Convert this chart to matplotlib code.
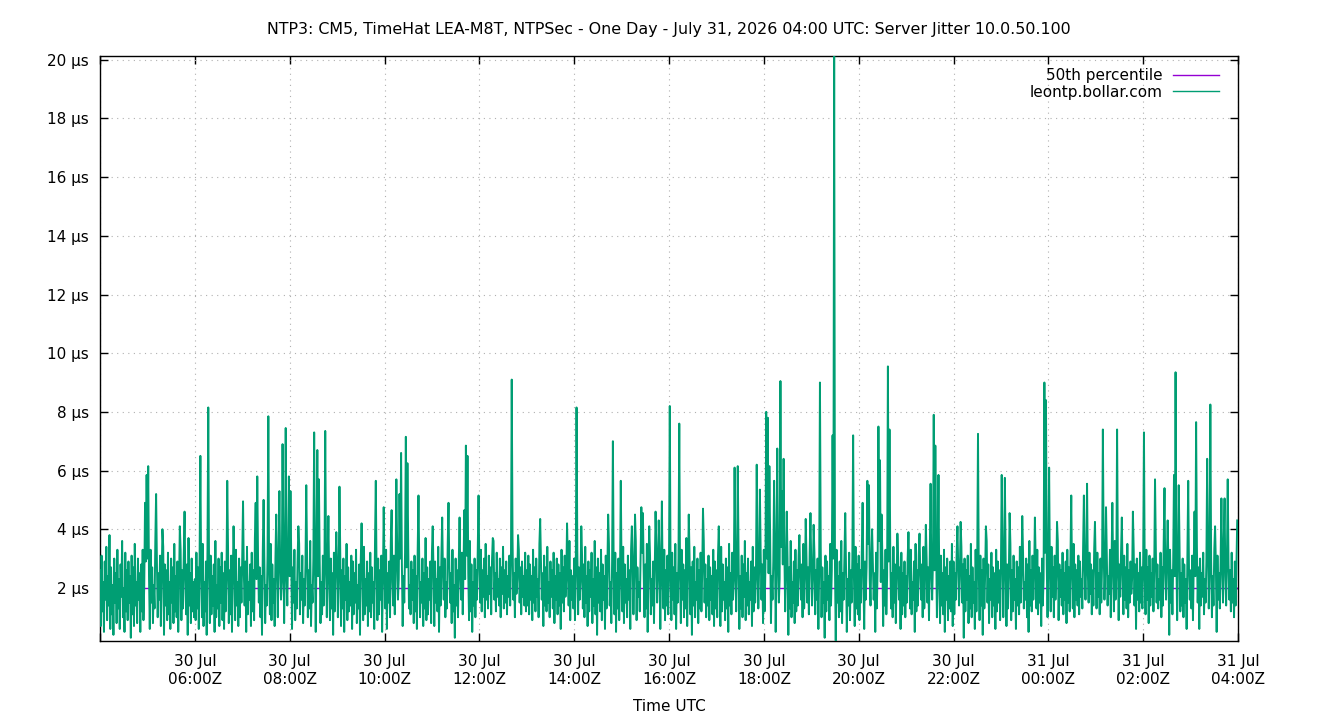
import numpy as np
import pandas as pd
import matplotlib
matplotlib.use("Agg")
import matplotlib.pyplot as plt
import matplotlib.dates as mdates
from matplotlib.ticker import FuncFormatter, MultipleLocator

# jitter, one sample per minute from 30 Jul 04:00 UTC, in tenths of a µs (one row per hour)
jitter_tenths = [
    26, 7, 31, 12, 22, 5, 29, 16, 34, 9, 24, 14, 38, 6, 27, 11, 21, 4, 30, 15, 25, 8, 33, 13, 23, 6, 28, 17, 36, 10, 20, 5, 32, 12, 26, 9, 29, 15, 24, 3, 31, 11, 27, 7, 35, 14, 22, 8, 30, 16, 25, 5, 28, 12, 33, 9, 21, 13, 29, 6,
    30, 11, 24, 6, 33, 15, 27, 8, 21, 13, 36, 5, 29, 10, 25, 16, 31, 7, 23, 12, 34, 4, 28, 14, 26, 9, 32, 11, 22, 6, 30, 15, 27, 8, 35, 12, 24, 10, 29, 5, 21, 16, 33, 9, 26, 13, 31, 7, 23, 11, 28, 4, 37, 14, 25, 8, 30, 12, 22, 10,
    23, 9, 32, 13, 27, 6, 30, 15, 25, 10, 35, 7, 22, 12, 29, 4, 33, 16, 26, 8, 31, 11, 24, 14, 28, 5, 36, 10, 21, 13, 30, 7, 27, 15, 32, 9, 25, 6, 29, 12, 23, 16, 34, 8, 26, 11, 31, 5, 24, 13, 28, 9, 33, 14, 22, 7, 30, 10, 27, 15,
    31, 8, 25, 14, 29, 5, 34, 11, 22, 16, 28, 7, 32, 12, 26, 9, 37, 13, 23, 6, 30, 15, 27, 10, 24, 4, 33, 12, 29, 8, 21, 14, 31, 6, 26, 11, 35, 9, 28, 15, 23, 7, 30, 13, 25, 10, 32, 5, 27, 16, 22, 12, 34, 8, 29, 11, 24, 14, 31, 9,
    24, 12, 30, 6, 27, 15, 33, 9, 22, 13, 29, 4, 35, 11, 25, 16, 31, 8, 23, 14, 28, 6, 32, 10, 26, 13, 36, 7, 21, 15, 30, 9, 27, 5, 34, 12, 24, 16, 29, 8, 22, 11, 31, 14, 26, 6, 33, 10, 28, 15, 23, 9, 30, 13, 25, 4, 32, 12, 27, 8,
    28, 10, 23, 15, 32, 7, 26, 13, 30, 5, 24, 16, 35, 9, 27, 12, 22, 14, 31, 6, 29, 11, 25, 15, 33, 8, 21, 13, 28, 4, 30, 16, 26, 9, 34, 11, 23, 14, 29, 7, 25, 12, 32, 10, 27, 15, 22, 6, 36, 13, 24, 9, 30, 11, 26, 16, 31, 5, 23, 14,
    27, 13, 33, 6, 25, 15, 29, 10, 36, 8, 22, 14, 31, 11, 26, 5, 34, 16, 23, 9, 30, 12, 28, 7, 24, 15, 32, 10, 27, 4, 35, 13, 21, 11, 29, 16, 26, 8, 31, 12, 24, 6, 33, 14, 28, 10, 22, 15, 30, 7, 25, 13, 37, 9, 27, 11, 23, 16, 29, 8,
    32, 11, 26, 7, 29, 15, 23, 12, 34, 5, 27, 14, 31, 9, 24, 16, 30, 10, 22, 13, 35, 6, 28, 15, 25, 8, 33, 12, 21, 3, 30, 14, 26, 10, 29, 6, 24, 16, 32, 11, 27, 13, 23, 7, 31, 15, 25, 9, 36, 12, 28, 5, 22, 14, 30, 10, 26, 16, 33, 8,
    28, 15, 33, 12, 26, 17, 30, 10, 35, 16, 24, 13, 31, 18, 27, 11, 29, 14, 36, 16, 25, 12, 32, 17, 23, 14, 30, 10, 27, 18, 34, 13, 26, 15, 29, 11, 24, 17, 31, 14, 28, 12, 37, 16, 25, 10, 30, 18, 23, 13, 33, 15, 27, 11, 29, 17, 24, 14, 32, 12,
    26, 14, 31, 11, 28, 16, 24, 9, 33, 15, 27, 12, 30, 17, 23, 10, 35, 13, 29, 16, 25, 7, 31, 14, 27, 12, 34, 15, 22, 10, 29, 17, 26, 13, 32, 8, 24, 16, 30, 11, 28, 14, 25, 6, 33, 15, 27, 12, 31, 17, 23, 10, 29, 14, 36, 9, 26, 16, 24, 13,
    30, 9, 25, 14, 33, 11, 27, 16, 22, 5, 31, 13, 28, 10, 34, 15, 24, 7, 29, 12, 26, 17, 32, 8, 23, 14, 36, 11, 27, 4, 30, 15, 25, 12, 33, 9, 28, 16, 24, 6, 31, 13, 26, 10, 35, 14, 22, 8, 29, 16, 27, 11, 32, 5, 25, 13, 30, 9, 23, 15,
    25, 12, 34, 8, 28, 15, 23, 10, 31, 16, 26, 6, 33, 13, 29, 11, 24, 14, 36, 9, 27, 17, 22, 12, 30, 7, 32, 15, 25, 10, 28, 13, 35, 5, 26, 16, 31, 11, 23, 14, 29, 8, 27, 12, 34, 15, 24, 10, 30, 6, 28, 16, 22, 13, 33, 9, 26, 14, 31, 11,
    29, 14, 24, 9, 32, 16, 27, 11, 35, 6, 25, 15, 30, 12, 23, 8, 33, 16, 28, 10, 26, 13, 37, 7, 24, 15, 31, 11, 27, 4, 29, 14, 34, 10, 22, 16, 30, 8, 26, 13, 32, 12, 25, 6, 36, 15, 28, 10, 23, 14, 31, 9, 27, 16, 24, 11, 33, 7, 29, 13,
    26, 10, 31, 15, 24, 7, 34, 12, 28, 16, 22, 9, 30, 13, 27, 5, 35, 14, 25, 11, 32, 16, 23, 8, 29, 12, 26, 15, 33, 6, 24, 13, 31, 10, 28, 17, 36, 9, 25, 14, 30, 11, 22, 16, 29, 7, 34, 12, 27, 15, 23, 4, 31, 13, 26, 10, 32, 16, 28, 8,
    33, 12, 27, 6, 30, 15, 25, 10, 37, 8, 24, 16, 29, 13, 35, 5, 26, 11, 31, 15, 23, 9, 34, 14, 28, 7, 32, 12, 25, 16, 30, 4, 27, 13, 36, 10, 22, 15, 29, 8, 33, 12, 26, 14, 31, 6, 24, 16, 28, 10, 35, 13, 23, 7, 30, 15, 27, 11, 32, 9,
    28, 14, 23, 8, 32, 11, 26, 16, 30, 6, 25, 13, 34, 10, 27, 15, 22, 3, 31, 12, 29, 16, 24, 9, 35, 14, 26, 7, 30, 13, 28, 2, 33, 15, 24, 10, 29, 12, 36, 8, 25, 16, 31, 11, 27, 5, 23, 14, 32, 9, 26, 15, 30, 12, 24, 7, 34, 13, 28, 11,
    31, 9, 26, 15, 33, 12, 24, 6, 29, 16, 27, 11, 35, 8, 23, 14, 30, 10, 28, 16, 25, 5, 32, 13, 27, 9, 36, 15, 22, 12, 30, 7, 26, 14, 33, 11, 24, 16, 29, 4, 31, 13, 25, 10, 34, 15, 28, 8, 23, 12, 30, 16, 27, 6, 32, 11, 25, 14, 29, 10,
    24, 15, 30, 8, 27, 13, 33, 11, 22, 16, 29, 5, 35, 12, 26, 14, 31, 7, 25, 16, 28, 10, 34, 13, 23, 4, 30, 15, 27, 9, 32, 12, 24, 16, 29, 6, 26, 13, 36, 10, 28, 15, 22, 8, 31, 14, 25, 11, 33, 5, 27, 16, 30, 9, 24, 13, 29, 12, 35, 7,
    29, 11, 25, 16, 32, 7, 27, 14, 23, 10, 34, 15, 28, 3, 30, 12, 26, 16, 31, 8, 24, 13, 35, 10, 27, 15, 22, 6, 33, 12, 29, 16, 25, 9, 31, 14, 26, 4, 30, 13, 24, 11, 36, 15, 28, 8, 23, 16, 32, 10, 27, 14, 25, 6, 33, 12, 29, 15, 26, 9,
    27, 14, 33, 10, 25, 16, 30, 7, 28, 13, 24, 15, 35, 9, 26, 12, 31, 16, 23, 6, 29, 14, 27, 11, 34, 15, 25, 8, 32, 13, 22, 16, 30, 10, 28, 5, 36, 14, 26, 12, 31, 16, 24, 9, 29, 13, 33, 11, 27, 15, 25, 7, 30, 14, 23, 12, 32, 16, 28, 10,
    30, 15, 25, 12, 34, 17, 27, 10, 31, 16, 24, 13, 36, 9, 28, 17, 26, 14, 32, 11, 25, 16, 29, 8, 33, 15, 27, 12, 30, 18, 24, 13, 35, 10, 28, 16, 26, 14, 31, 11, 29, 17, 23, 13, 34, 9, 27, 16, 30, 12, 25, 15, 32, 18, 28, 11, 26, 14, 33, 16,
    27, 13, 32, 17, 25, 11, 30, 15, 28, 8, 34, 16, 26, 12, 31, 14, 24, 18, 33, 10, 29, 15, 27, 12, 36, 16, 25, 13, 30, 9, 28, 17, 32, 14, 24, 11, 31, 16, 27, 13, 35, 10, 26, 15, 29, 18, 23, 12, 33, 14, 28, 6, 30, 16, 25, 12, 32, 15, 27, 13,
    29, 15, 24, 11, 33, 16, 27, 8, 31, 14, 25, 17, 30, 12, 26, 5, 34, 15, 28, 13, 23, 16, 32, 10, 27, 14, 36, 9, 25, 16, 30, 12, 28, 4, 33, 15, 26, 11, 29, 17, 24, 13, 31, 9, 27, 16, 35, 12, 25, 14, 30, 10, 28, 15, 23, 6, 32, 14, 26, 16,
    26, 13, 31, 9, 28, 16, 24, 12, 34, 15, 27, 6, 30, 14, 25, 17, 32, 11, 23, 15, 29, 8, 35, 13, 26, 16, 30, 10, 24, 14, 33, 12, 28, 5, 31, 16, 25, 13, 29, 9, 27, 15, 36, 11, 24, 14, 30, 8, 28, 16, 26, 12, 32, 15, 23, 10, 29, 14, 27, 12,
]

# spikes: (minutes after 30 Jul 04:00, jitter µs)
spikes = [
    (57, 4.9), (59, 5.85), (61, 6.15), (71, 5.2), (79, 4.0), (101, 4.1), (107, 4.6), (127, 6.5),
    (137, 8.15), (161, 5.65), (169, 4.1), (181, 4.95), (197, 4.9), (199, 5.8), (207, 5.0), (213, 7.85),
    (223, 4.5), (227, 5.3), (231, 6.9), (235, 7.45), (239, 5.8), (241, 5.3), (251, 4.1), (261, 5.5),
    (271, 7.3), (275, 6.7), (277, 5.7), (285, 7.35), (289, 4.45), (299, 3.9), (303, 5.45), (331, 4.2),
    (349, 5.65), (359, 4.75), (369, 4.65), (375, 5.7), (379, 5.2), (381, 6.6), (387, 7.15), (389, 6.25),
    (403, 5.15), (421, 4.1), (433, 4.4), (441, 4.9), (455, 4.4), (461, 4.65), (463, 6.85), (465, 6.5),
    (479, 5.15), (497, 3.7), (521, 9.1), (529, 3.8), (557, 4.35), (591, 4.2), (603, 8.15), (609, 4.1),
    (643, 4.5), (649, 7.0), (659, 5.65), (673, 4.1), (677, 4.5), (685, 4.75), (687, 4.55), (695, 4.1),
    (703, 4.6), (707, 4.3), (711, 4.95), (721, 8.2), (733, 7.6), (745, 4.5), (763, 4.7), (783, 4.1),
    (803, 6.1), (807, 6.15), (831, 6.2), (835, 5.35), (843, 8.0), (845, 7.8), (847, 6.15), (853, 5.65),
    (857, 6.75), (861, 9.05), (863, 5.3), (865, 6.4), (869, 4.6), (885, 3.8), (893, 4.35), (899, 4.55),
    (903, 4.15), (911, 9.0), (927, 7.2), (929, 20.13), (943, 4.55), (953, 7.2), (965, 4.9), (971, 5.65),
    (973, 5.5), (977, 4.0), (985, 7.5), (987, 6.35), (989, 4.5), (997, 9.55), (999, 7.4), (1009, 3.85),
    (1023, 3.9), (1037, 3.85), (1045, 4.15), (1051, 5.55), (1055, 7.9), (1057, 6.85), (1061, 5.85), (1085, 4.1),
    (1089, 4.25), (1111, 7.25), (1121, 4.1), (1141, 5.85), (1145, 5.75), (1151, 4.55), (1167, 4.45), (1183, 4.4),
    (1195, 9.0), (1197, 8.4), (1201, 6.1), (1211, 4.25), (1229, 5.15), (1245, 5.15), (1249, 5.55), (1259, 4.25),
    (1269, 7.4), (1273, 4.75), (1281, 4.9), (1287, 7.4), (1293, 4.4), (1307, 4.6), (1321, 7.3), (1335, 5.7),
    (1347, 5.4), (1351, 4.3), (1359, 5.85), (1361, 9.35), (1365, 5.5), (1377, 5.65), (1385, 4.6), (1387, 7.65),
    (1401, 6.4), (1405, 8.25), (1411, 4.1), (1419, 5.05), (1423, 5.05), (1427, 5.7), (1439, 4.3),
]

p50_us = 1.98  # 50th percentile line

start = pd.Timestamp("2026-07-30 04:00")
end = pd.Timestamp("2026-07-31 04:00")

regular = pd.Series(np.array(jitter_tenths) / 10.0,
                    index=pd.date_range(start, periods=len(jitter_tenths), freq="1min"))
spk_min, spk_val = zip(*spikes)
spk = pd.Series(spk_val, index=start + pd.to_timedelta(spk_min, unit="min"))
# a spike replaces the regular sample taken at that minute
series = pd.concat([regular.drop(spk.index, errors="ignore"), spk]).sort_index()

plt.rcParams["font.family"] = ["DejaVu Sans"]
plt.rcParams["path.simplify"] = False
fig = plt.figure(figsize=(13.4, 7.2), dpi=100)
ax = fig.add_axes([100 / 1340, 1 - 641 / 720, 1138 / 1340, 585 / 720])

ax.plot([start, end], [p50_us, p50_us], color="#9400d3", lw=1.0, label="50th percentile", zorder=2)
ax.plot(series.index, series.values, color="#009e73", lw=1.4, label="leontp.bollar.com", zorder=3)

ax.set_xlim(start, end)
ax.set_ylim(0.19, 20.13)

ax.yaxis.set_major_locator(MultipleLocator(2))
ax.yaxis.set_major_formatter(FuncFormatter(lambda v, p: f"{v:g} µs"))
ax.xaxis.set_major_locator(mdates.HourLocator(byhour=range(0, 24, 2)))
datefmt = mdates.DateFormatter("%d %b\n%H:%MZ")
ax.xaxis.set_major_formatter(FuncFormatter(
    lambda v, p: "" if abs(v - mdates.date2num(start)) < 1e-6 else datefmt(v, p)))

ax.tick_params(direction="in", length=6, width=1, top=True, right=True, labelsize=11)
ax.tick_params(axis="x", pad=9.5)
ax.tick_params(axis="y", pad=8)
ax.grid(True, color="#b0b0b0", linestyle=(0, (1, 4)), linewidth=0.8)
for s in ax.spines.values():
    s.set_linewidth(1.0)

ax.set_title("NTP3: CM5, TimeHat LEA-M8T, NTPSec - One Day - July 31, 2026 04:00 UTC: Server Jitter 10.0.50.100",
             fontsize=11.4, pad=15.5)
ax.set_xlabel("Time UTC", fontsize=11, labelpad=9)

leg = ax.legend(loc="upper right", bbox_to_anchor=(1 - 7 / 1138, 1), frameon=False, markerfirst=False,
                fontsize=11, handlelength=3.0, handletextpad=0.7, labelspacing=0.1, borderaxespad=0.4)
for line in leg.get_lines():
    line.set_linewidth(1.0)

fig.savefig("out.png", dpi=100)
